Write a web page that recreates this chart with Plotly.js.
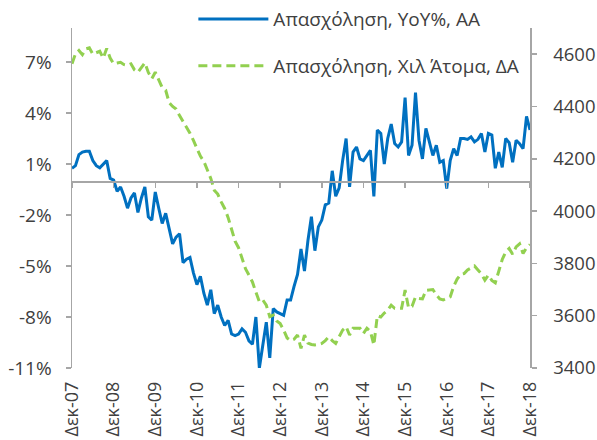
<!DOCTYPE html>
<html><head><meta charset="utf-8">
<script src="https://cdn.plot.ly/plotly-3.0.1.min.js"></script>
<style>html,body{margin:0;padding:0;background:#fff}#chart{width:597px;height:440px}</style>
</head><body><div id="chart"></div>
<script>
// Employment YoY % (left axis), monthly Dec-07 .. Dec-18
const yoy = [
 0.75, 0.9, 1.55, 1.7, 1.75, 1.75, 1.2, 0.9, 0.78, 1.0, 1.2, 0.15,
 0.05, -0.6, -0.35, -0.9, -1.6, -1.0, -0.7, -1.85, -1.0, -0.35, -2.1, -2.3,
 -0.65, -1.6, -2.5, -1.9, -2.9, -3.7, -3.3, -3.1, -4.8, -4.6, -4.5, -5.4,
 -6.1, -5.6, -6.6, -7.3, -6.4, -7.8, -7.3, -8.0, -8.5, -8.2, -9.0, -9.1,
 -9.0, -8.7, -8.9, -9.4, -9.6, -8.0, -11.0, -9.5, -8.3, -10.4, -7.5, -7.7,
 -7.8, -7.9, -7.0, -7.0, -6.2, -5.5, -4.0, -5.3, -3.5, -2.1, -4.1, -2.7,
 -2.3, -1.4, -1.3, 0.6, -0.9, -0.4, 1.2, 2.5, -0.35, 1.7, 2.0, 1.3,
 1.2, 1.5, 1.8, -0.9, 3.0, 2.8, 1.0, 2.5, 3.35, 2.2, 2.0, 2.3,
 4.9, 1.5, 2.1, 5.2, 2.4, 1.3, 3.1, 2.3, 1.5, 2.1, 1.1, 1.2,
 -0.45, 1.2, 1.9, 1.5, 2.5, 2.5, 2.45, 2.6, 2.3, 2.45, 2.8, 1.7,
 2.8, 2.7, 0.75, 1.7, 0.8, 2.5, 2.25, 1.1, 2.4, 2.2, 1.9, 3.8,
 3.0
];
// Employment, thousands of persons (right axis)
const persons = [
 4563, 4601, 4614, 4598, 4620, 4624, 4600, 4607, 4611, 4585, 4622, 4585,
 4563, 4566, 4569, 4560, 4557, 4563, 4540, 4531, 4550, 4567, 4530, 4506,
 4531, 4500, 4472, 4462, 4415, 4400, 4390, 4365, 4343, 4320, 4298, 4270,
 4240, 4210, 4190, 4156, 4125, 4080, 4065, 4035, 4010, 3975, 3930, 3885,
 3860, 3820, 3780, 3755, 3729, 3690, 3653, 3660, 3640, 3596, 3602, 3580,
 3570, 3545, 3515, 3505, 3510, 3526, 3475, 3526, 3495, 3490, 3488, 3490,
 3494, 3505, 3519, 3505, 3494, 3520, 3545, 3558, 3526, 3552, 3552, 3552,
 3532, 3552, 3540, 3488, 3600, 3595, 3610, 3621, 3640, 3628, 3628, 3628,
 3698, 3630, 3636, 3672, 3666, 3664, 3697, 3699, 3700, 3680, 3664, 3660,
 3666, 3672, 3712, 3740, 3758, 3761, 3775, 3783, 3790, 3775, 3760, 3736,
 3755, 3735, 3726, 3770, 3815, 3844, 3857, 3835, 3863, 3875, 3838, 3860,
 3872
];
const seriesNames = ['Απασχόληση, YoY%, AA', 'Απασχόληση, Χιλ Άτομα, ΔΑ'];
const monthNames = ['Ιαν','Φεβ','Μαρ','Απρ','Μαϊ','Ιουν','Ιουλ','Αυγ','Σεπ','Οκτ','Νοε','Δεκ'];
const months = [];
for (let k = 0; k < yoy.length; k++) {
  const mi = (11 + k) % 12, yr = 2007 + Math.floor((11 + k) / 12);
  months.push(monthNames[mi] + '-' + String(yr % 100).padStart(2, '0'));
}
const xTickLabels = ['Δεκ-07','Δεκ-08','Δεκ-09','Δεκ-10','Δεκ-11','Δεκ-12','Δεκ-13','Δεκ-14','Δεκ-15','Δεκ-16','Δεκ-17','Δεκ-18'];
const leftTickVals = [-11, -8, -5, -2, 1, 4, 7];
const leftTickText = ['-11%', '-8%', '-5%', '-2%', '1%', '4%', '7%'];
const rightTickVals = [3400, 3600, 3800, 4000, 4200, 4400, 4600];

const FONT = 'Open Sans, sans-serif';
const TXT = '#404040';
const AX = '#a6a6a6';

const traces = [
  { x: months, y: yoy, name: seriesNames[0], type: 'scatter', mode: 'lines',
    xaxis: 'x', yaxis: 'y', legendgroup: 'a',
    line: { color: '#0070C0', width: 3 } },
  { x: months, y: persons, name: seriesNames[1], type: 'scatter', mode: 'lines',
    xaxis: 'x2', yaxis: 'y2', legendgroup: 'b',
    line: { color: '#92D050', width: 3, dash: '9px,5px' } }
];

const layout = {
  width: 597, height: 440,
  margin: { l: 72, r: 67, t: 28, b: 72, autoexpand: false },
  paper_bgcolor: '#fff', plot_bgcolor: '#fff',
  font: { family: FONT, size: 19, color: TXT },
  showlegend: true,
  legend: { x: 0.265, xanchor: 'left', y: 1.082, yanchor: 'top',
    bgcolor: 'rgba(0,0,0,0)', traceorder: 'grouped', tracegroupgap: 19,
    itemwidth: 70, font: { family: FONT, size: 19, color: TXT } },
  xaxis: { type: 'category', range: [0, months.length - 1], anchor: 'free', position: 0.55,
    showline: true, linecolor: AX, linewidth: 1.5, ticks: 'outside', ticklen: 5, tickcolor: AX,
    tickwidth: 1.5, tickvals: xTickLabels, showticklabels: false, showgrid: false, zeroline: false },
  xaxis2: { type: 'category', overlaying: 'x', anchor: 'y2', side: 'bottom',
    range: [0, months.length - 1], showline: false, ticks: '', tickvals: xTickLabels,
    ticktext: xTickLabels, tickangle: -90, ticklabelstandoff: 9, showgrid: false, zeroline: false,
    automargin: false, tickfont: { family: FONT, size: 18, color: TXT } },
  yaxis: { range: [-11, 9], tickvals: leftTickVals, ticktext: leftTickText,
    showline: true, linecolor: AX, linewidth: 1.5, ticks: 'outside', ticklen: 5, tickcolor: AX,
    tickwidth: 1.5, showgrid: false, zeroline: false, ticklabelstandoff: 10,
    automargin: false, tickfont: { family: FONT, size: 19, color: TXT } },
  yaxis2: { range: [3400, 4700], tickvals: rightTickVals, overlaying: 'y', side: 'right', anchor: 'x2',
    showline: true, linecolor: AX, linewidth: 1.5, ticks: 'outside', ticklen: 5, tickcolor: AX,
    tickwidth: 1.5, showgrid: false, zeroline: false, ticklabelstandoff: 13,
    automargin: false, tickfont: { family: FONT, size: 18.5, color: TXT } }
};

Plotly.newPlot('chart', traces, layout, { displayModeBar: false, staticPlot: true });
</script>
</body></html>
